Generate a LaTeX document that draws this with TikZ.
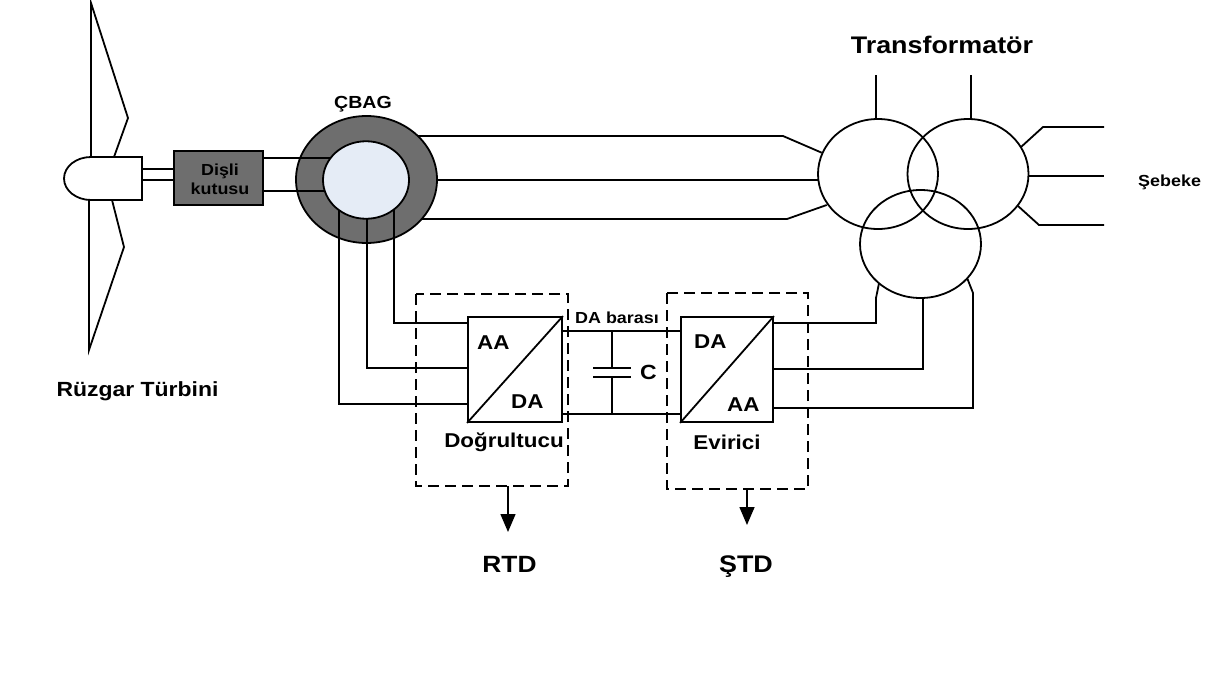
\documentclass[tikz,border=0pt]{standalone}
\usepackage{fontspec}
\setmainfont{Liberation Sans}[FakeStretch=1.12]
\usetikzlibrary{arrows.meta,shapes.geometric}
\definecolor{ringgray}{HTML}{6E6E6E}
\definecolor{corefill}{HTML}{E5ECF6}
\begin{document}
\begin{tikzpicture}[x=1pt,y=-1pt,
  wire/.style={line width=1.8pt},
  lbl/.style={font=\bfseries\fontsize{#1}{#1}\selectfont, inner sep=0pt, anchor=base},
  convbox/.style={draw, line width=1.8pt, fill=white, rectangle, inner sep=0pt},
  groupbox/.style={line width=1.5pt, dash pattern=on 11pt off 6pt},
  outarrow/.style={line width=1.5pt, -{Triangle[length=18pt,width=15pt]}}]
\useasboundingbox (0,0) rectangle (1220,688);

% ---- wind turbine ----
\draw[wire, fill=white] (91,157) -- (91,3) -- (128,118) -- (114,157);
\draw[wire, fill=white] (112,200) -- (124,247) -- (89,350) -- (89,200);
\draw[wire, fill=white] (142,157) -- (91,157)
  arc[start angle=270, end angle=90, x radius=27, y radius=21.5] -- (142,200) -- cycle;
\node[lbl=20.5] (turbine) at (137.5,396) {Rüzgar Türbini};

% ---- gearbox ----
\node[draw, line width=1.8pt, fill=ringgray, minimum width=89pt, minimum height=54pt, inner sep=0pt]
  (gear) at (218.5,178) {};
\node[lbl=16] (gearA) at (220,175) {Dişli};
\node[lbl=16] (gearB) at (220,194) {kutusu};
\draw[wire] (142,169) -- (gear.west |- 142,169);
\draw[wire] (142,180) -- (gear.west |- 142,180);

% ---- generator (stator leads to transformer) ----
\coordinate (genc) at (366.5,179.5);
\draw[wire] (366,136) -- (783,136) -- (821.7,152.7);
\draw[wire] (366,180) -- (818,180);
\draw[wire] (366,219) -- (787,219) -- (826.7,205);
\node[ellipse, draw, line width=1.8pt, fill=ringgray, minimum width=141pt, minimum height=127pt, inner sep=0pt]
  (genout) at (genc) {};
\draw[wire] (gear.east |- 263,158) -- (366,158);
\draw[wire] (gear.east |- 263,191) -- (366,191);
% rotor leads down to the rectifier
\draw[wire] (394,180) -- (394,323) -- (468,323);
\draw[wire] (367,180) -- (367,368) -- (468,368);
\draw[wire] (339,180) -- (339,404) -- (468,404);
\node[ellipse, draw, line width=1.8pt, fill=corefill, minimum width=86pt, minimum height=77.5pt, inner sep=0pt]
  (genin) at (366,180) {};
\node[lbl=17.5] (genlbl) at (363,108) {ÇBAG};

% ---- DC link ----
\draw[wire] (562,331) -- (681,331);
\draw[wire] (562,414) -- (681,414);
\draw[wire] (612,331) -- (612,368);
\draw[wire] (593,368) -- (631,368);
\draw[wire] (593,377) -- (631,377);
\draw[wire] (612,377) -- (612,414);
\node[lbl=16] (buslbl) at (617,323) {DA barası};
\node[lbl=20.5, anchor=base west] (caplbl) at (640,379) {C};

% ---- converters ----
\node[convbox, minimum width=94pt, minimum height=105pt] (rect) at (515,369.5) {};
\draw[wire] (rect.south west) -- (rect.north east);
\node[lbl=20, anchor=base west] (rectA) at (477,349) {AA};
\node[lbl=20, anchor=base west] (rectB) at (511,408) {DA};
\node[lbl=20] (rectlbl) at (504,447) {Doğrultucu};

\node[convbox, minimum width=92pt, minimum height=105pt] (inv) at (727,369.5) {};
\draw[wire] (inv.south west) -- (inv.north east);
\node[lbl=20, anchor=base west] (invA) at (694,348) {DA};
\node[lbl=20, anchor=base west] (invB) at (727,411) {AA};
\node[lbl=20] (invlbl) at (727,449) {Evirici};

% ---- inverter to transformer ----
\draw[wire] (inv.east |- 773,323) -- (876,323) -- (876,298) -- (879,283.3);
\draw[wire] (inv.east |- 773,369) -- (923,369) -- (923,298);
\draw[wire] (inv.east |- 773,408) -- (973,408) -- (973,293) -- (967.5,279);

% ---- transformer ----
\draw[wire] (876,75) -- (876,119);
\draw[wire] (971,75) -- (971,119);
\draw[wire] (1021,147) -- (1043,127) -- (1104,127);
\draw[wire] (1029,176) -- (1104,176);
\draw[wire] (1018,206) -- (1039,225) -- (1104,225);
\node[ellipse, draw, line width=1.8pt, minimum width=120pt, minimum height=110pt, inner sep=0pt] (trl) at (878,174) {};
\node[ellipse, draw, line width=1.8pt, minimum width=121pt, minimum height=110pt, inner sep=0pt] (trr) at (968,174) {};
\node[ellipse, draw, line width=1.8pt, minimum width=121pt, minimum height=108pt, inner sep=0pt] (trb) at (920.5,244) {};
\node[lbl=24] (trlbl) at (942,53) {Transformatör};
\node[lbl=16, anchor=base west] (gridlbl) at (1138,186) {Şebeke};

% ---- control groups ----
\draw[groupbox] (416,294) rectangle (568,486);
\draw[groupbox] (667,293) rectangle (808,489);
\coordinate (rtdtop) at (508,486);
\coordinate (stdtop) at (747,489);
\node[lbl=23.5] (rtd) at (509.5,572) {RTD};
\node[lbl=24] (std) at (746,572) {ŞTD};
\draw[outarrow] (rtdtop) -- (508,532);
\draw[outarrow] (stdtop) -- (747,525);
\end{tikzpicture}
\end{document}
